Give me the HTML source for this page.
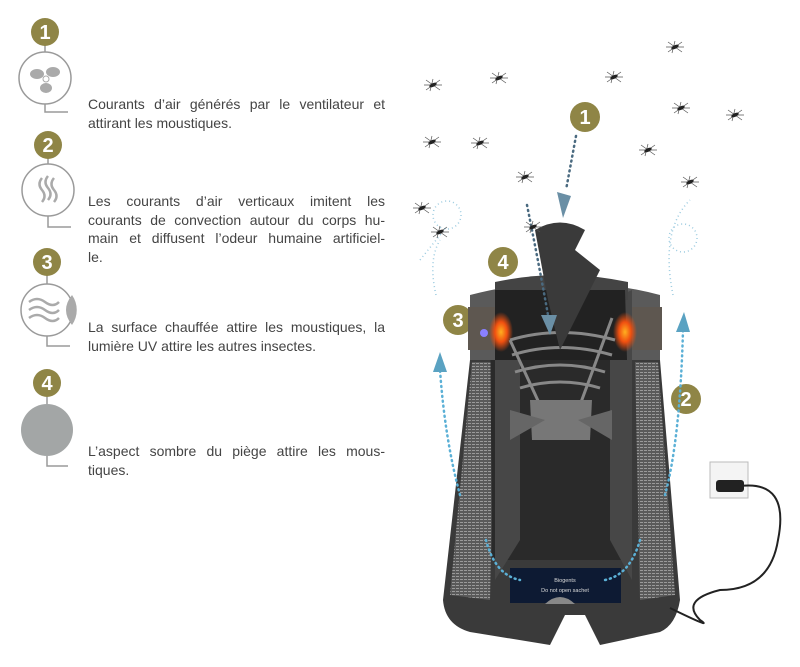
<!DOCTYPE html>
<html><head><meta charset="utf-8"><style>
body{margin:0;width:800px;height:667px;background:#fff;overflow:hidden;position:relative;font-family:"Liberation Sans",sans-serif}
.t{position:absolute;left:88px;width:297px;font-size:14px;line-height:18.7px;color:#444}
.t div{text-align:justify;text-align-last:justify;white-space:nowrap}
.t div.l{text-align-last:left}
svg{position:absolute;left:0;top:0}
</style></head><body>
<svg width="800" height="667" viewBox="0 0 800 667">
<defs>
<g id="m"><path d="M-7,-5 L7,5 M-7,5 L7,-5 M-9,0 L9,0 M0,-6 L-3,6" stroke="#555" stroke-width="0.7"/><ellipse cx="0" cy="0" rx="4" ry="1.8" fill="#222" transform="rotate(-25)"/></g>
<radialGradient id="gl"><stop offset="0" stop-color="#ffb020"/><stop offset=".5" stop-color="#f05010"/><stop offset="1" stop-color="#f05010" stop-opacity="0"/></radialGradient>
<pattern id="mesh" width="4" height="3" patternUnits="userSpaceOnUse"><rect width="4" height="3" fill="#5a5a5a"/><rect width="3" height="1" fill="#9a9a9a"/></pattern>
</defs>
<g fill="none" stroke="#9a9a9a" stroke-width="1.5">
<circle cx="45" cy="78" r="26"/><circle cx="48" cy="190" r="26"/><circle cx="47" cy="310" r="26"/>
<path d="M45,45 V52 M45,104 V112 H68 M48,158 V164 M48,216 V227 H71 M47,275 V284 M47,336 V346 H70 M47,397 V404 M47,456 V466 H68"/>
</g>
<circle cx="47" cy="430" r="26" fill="#a3a6a6"/>
<g fill="#aaa"><ellipse cx="37" cy="74" rx="7" ry="5"/><ellipse cx="53" cy="72" rx="7" ry="5"/><ellipse cx="46" cy="88" rx="6" ry="5"/><circle cx="46" cy="79" r="3" fill="#fff" stroke="#aaa"/></g>
<g fill="none" stroke="#aaa" stroke-width="2.5"><path d="M42,178 q-5,6 0,12 q5,6 0,12 M48,176 q-5,6 0,12 q5,6 0,12 M54,178 q-5,6 0,12 q5,6 0,12"/>
<path d="M29,302 q8,-6 16,0 t14,0 M29,310 q8,-6 16,0 t14,0 M29,318 q8,-6 16,0 t14,0"/></g>
<path d="M72,295 A26,26 0 0 1 72,325 Q60,310 72,295Z" fill="#aaa"/>
<g fill="#8f8546"><circle cx="45" cy="32" r="14"/><circle cx="48" cy="145" r="14"/><circle cx="47" cy="262" r="14"/><circle cx="47" cy="383" r="14"/>
<circle cx="585" cy="117" r="15"/><circle cx="686" cy="399" r="15"/><circle cx="458" cy="320" r="15"/><circle cx="503" cy="262" r="15"/></g>
<g fill="#fff" font-family="Liberation Sans" font-weight="bold" font-size="20" text-anchor="middle">
<text x="45" y="39">1</text><text x="48" y="152">2</text><text x="47" y="269">3</text><text x="47" y="390">4</text>
<text x="585" y="124">1</text><text x="686" y="406">2</text><text x="458" y="327">3</text><text x="503" y="269">4</text></g>
<path d="M470,360 L443,600 Q445,625 470,632 L550,645 L565,615 L585,615 L600,645 L660,632 Q676,625 680,600 L660,360Z" fill="#3a3a3a"/>
<path d="M472,362 L450,595 L490,600 L495,362Z" fill="url(#mesh)"/>
<path d="M635,362 L640,600 L675,595 L658,362Z" fill="url(#mesh)"/>
<path d="M490,300 L492,560 L630,560 L632,300Z" fill="#2a2a2a"/>
<path d="M470,295 Q565,270 660,295 L660,360 L470,360Z" fill="#5a5a5a"/>
<path d="M468,307 L662,307 L662,350 L468,350Z" fill="#5e5750"/>
<path d="M495,290 L520,300 L520,540 L495,580Z M632,290 L610,300 L610,540 L632,580Z" fill="#474747"/>
<path d="M495,282 Q560,268 628,282 L628,300 L495,300Z" fill="#444"/>
<path d="M495,290 L625,290 L627,360 L495,360Z" fill="#222"/>
<ellipse cx="501" cy="332" rx="12" ry="20" fill="url(#gl)"/><ellipse cx="625" cy="332" rx="12" ry="20" fill="url(#gl)"/>
<circle cx="484" cy="333" r="4" fill="#8a80ff"/>
<g fill="none" stroke="#888" stroke-width="3"><path d="M510,340 Q560,325 615,340 M512,355 Q560,340 612,355 M515,372 Q560,358 605,372 M520,388 Q560,376 600,388"/>
<path d="M510,340 L540,405 M612,318 L580,405"/></g>
<path d="M530,400 L592,400 L590,440 L532,440Z" fill="#777"/>
<path d="M510,410 L545,420 L510,440Z M612,410 L578,420 L612,440Z" fill="#666"/>
<path d="M535,230 Q560,215 585,230 L575,250 L600,270 L560,350 L548,300Z" fill="#3a3a3a"/>
<rect x="510" y="568" width="111" height="35" fill="#0d1a33"/>
<text x="565" y="582" fill="#ddd" font-size="5.5" text-anchor="middle">Biogents</text><text x="565" y="592" fill="#ddd" font-size="5.5" text-anchor="middle">Do not open sachet</text>
<path d="M545,604 Q560,590 575,604" fill="#888"/>
<rect x="710" y="462" width="38" height="36" fill="#f4f4f4" stroke="#bbb"/>
<rect x="716" y="480" width="28" height="12" rx="3" fill="#222"/>
<path d="M740,486 Q790,480 778,540 Q770,590 720,590 Q680,600 700,620 Q715,630 670,608" fill="none" stroke="#222" stroke-width="2"/>
<g fill="none" stroke="#5bb0d6" stroke-width="2.5" stroke-dasharray="1 4" stroke-linecap="round">
<path d="M460,495 Q445,440 440,370"/><path d="M665,495 Q680,440 683,330"/>
<path d="M486,540 Q495,575 520,580"/><path d="M640,540 Q630,575 605,580"/>
</g>
<g fill="none" stroke="#9ccbe0" stroke-width="1.5" stroke-dasharray="1 3">
<circle cx="447" cy="215" r="14"/><circle cx="683" cy="238" r="14"/><path d="M436,295 Q428,260 440,240 M673,295 Q660,230 690,200 M420,260 Q440,235 446,228"/></g>
<g fill="none" stroke="#4a6a80" stroke-width="2.5" stroke-dasharray="1 4" stroke-linecap="round"><path d="M576,136 L566,190"/><path d="M527,205 Q540,270 548,315"/></g>
<g fill="#6a8fa5"><path d="M557,192 L571,196 L563,218Z"/><path d="M541,315 L557,315 L550,335Z"/></g>
<g fill="#5aa2c2"><path d="M433,372 L447,372 L440,352Z"/><path d="M676,332 L690,332 L684,312Z"/></g>
<g><use href="#m" x="433" y="85"/><use href="#m" x="499" y="78"/><use href="#m" x="614" y="77"/><use href="#m" x="675" y="47"/><use href="#m" x="681" y="108"/><use href="#m" x="735" y="115"/><use href="#m" x="432" y="142"/><use href="#m" x="480" y="143"/><use href="#m" x="648" y="150"/><use href="#m" x="525" y="177"/><use href="#m" x="690" y="182"/><use href="#m" x="422" y="208"/><use href="#m" x="533" y="227"/><use href="#m" x="440" y="232"/></g>
</svg>
<div class="t" style="top:95px"><div>Courants d’air générés par le ventilateur et</div><div class="l">attirant les moustiques.</div></div>
<div class="t" style="top:192px"><div>Les courants d’air verticaux imitent les</div><div>courants de convection autour du corps hu-</div><div>main et diffusent l’odeur humaine artificiel-</div><div class="l">le.</div></div>
<div class="t" style="top:318px"><div>La surface chauffée attire les moustiques, la</div><div class="l">lumière UV attire les autres insectes.</div></div>
<div class="t" style="top:442px"><div>L’aspect sombre du piège attire les mous-</div><div class="l">tiques.</div></div>
</body></html>
